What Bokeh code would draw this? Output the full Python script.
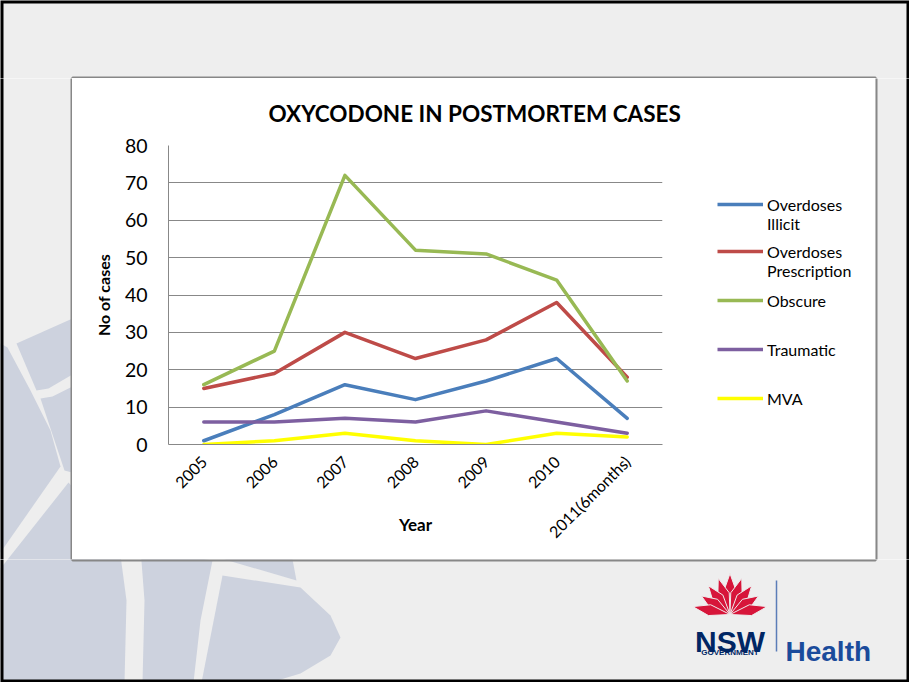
import math
from bokeh.plotting import figure
from bokeh.layouts import column, row
from bokeh.models import Range1d, Legend, LegendItem, FixedTicker
from bokeh.core.properties import value
from bokeh.embed import file_html
from bokeh.resources import INLINE

# ---------------- data ----------------
years = ["2005", "2006", "2007", "2008", "2009", "2010", "2011(6months)"]
overdoses_illicit = [1, 8, 16, 12, 17, 23, 7]
overdoses_prescription = [15, 19, 30, 23, 28, 38, 18]
obscure = [16, 25, 72, 52, 51, 44, 17]
traumatic = [6, 6, 7, 6, 9, 6, 3]
mva = [0, 1, 3, 1, 0, 3, 2]
series_labels = ["\nOverdoses\nIllicit", "\nOverdoses\nPrescription", "Obscure", "Traumatic", "MVA"]
series_colors = ["#4a7ebb", "#be4b48", "#98b954", "#7d5fa0", "#ffff00"]
y_ticks = [0, 10, 20, 30, 40, 50, 60, 70, 80]
title_text = "OXYCODONE IN POSTMORTEM CASES"
x_title = "Year"
y_title = "No of cases"

x_pos = list(range(len(years)))  # category index positions

# ---------------- slide geometry (page pixels) ----------------
PW, PH = 909, 682
BOX_L, BOX_R, BOX_T, BOX_B = 72, 875, 78, 559
LEG_L = 700                                # legend column starts here
SLIDE_BG = "#eeeeee"
PETAL = "#cdd2de"
FONT = "Lato"

petals = [
    [(0, 343), (7, 347), (30, 390), (50, 430), (60, 466), (0, 552)],
    [(16, 343), (72, 318), (72, 374), (48, 388), (36, 390)],
    [(40, 398), (52, 396), (72, 386), (72, 472), (64, 470)],
    [(0, 568), (68, 482), (118, 540), (126, 600), (124, 682), (0, 682)],
    [(140, 548), (212, 560), (200, 620), (193, 682), (142, 682), (144, 600)],
    [(222, 575), (300, 587), (330, 615), (340, 637), (330, 655), (300, 673), (270, 682), (201, 682)],
    [(224, 559), (292, 559), (296, 580)],
]


def strip(x0, x1, y0, y1):
    f = figure(width=x1 - x0, height=y1 - y0, x_range=Range1d(x0, x1), y_range=Range1d(y1, y0),
               output_backend="svg", toolbar_location=None,
               x_axis_location=None, y_axis_location=None, min_border=0)
    f.frame_align = False
    f.outline_line_color = None
    f.background_fill_color = SLIDE_BG
    f.border_fill_color = SLIDE_BG
    f.grid.visible = False
    f.patches([[q[0] for q in pl] for pl in petals], [[q[1] for q in pl] for pl in petals],
              fill_color=PETAL, line_color=None)
    f.quad(left=[BOX_L], right=[BOX_R], top=[BOX_T], bottom=[BOX_B], fill_color=None,
           line_color="#878787", line_width=4)
    f.quad(left=[0], right=[PW], top=[0], bottom=[PH], fill_color=None,
           line_color="#000000", line_width=6)
    return f


top = strip(0, PW, 0, BOX_T)
left = strip(0, BOX_L, BOX_T, BOX_B)
right = strip(BOX_R, PW, BOX_T, BOX_B)
bottom = strip(0, PW, BOX_B, PH)

# NSW Health logo in the bottom strip
red = "#d7153a"
bx, by = 729.5, 614
pxs, pys = [], []
for ang, ln, wd in [(0, 41, 13), (-18, 38, 12), (18, 38, 12), (-37, 36, 12), (37, 36, 12),
                    (-57, 34, 12), (57, 34, 12), (-78, 38, 11), (78, 38, 11)]:
    a = math.radians(ang)
    dx, dy = math.sin(a), -math.cos(a)
    nx, ny = -dy, dx
    tip = (bx + dx * ln, by + dy * ln)
    mid = (bx + dx * ln * 0.55, by + dy * ln * 0.55)
    pts = [(bx, by), (mid[0] + nx * wd / 2, mid[1] + ny * wd / 2), tip,
           (mid[0] - nx * wd / 2, mid[1] - ny * wd / 2)]
    pxs.append([q[0] for q in pts])
    pys.append([q[1] for q in pts])
bottom.patches(pxs, pys, fill_color=red, line_color=SLIDE_BG, line_width=1)
bottom.text(x=[729.5], y=[641], text=["NSW"], text_font=value("Liberation Sans"),
            text_font_style="bold", text_font_size="30px", text_align="center",
            text_baseline="alphabetic", text_color="#002664")
bottom.text(x=[729.5], y=[652], text=["GOVERNMENT"], text_font=value("Liberation Sans"),
            text_font_style="bold", text_font_size="8px", text_align="center",
            text_baseline="alphabetic", text_color="#002664")
bottom.segment(x0=[776], y0=[580], x1=[776], y1=[651], line_color="#5b7db8", line_width=1.5)
bottom.text(x=[785], y=[651], text=["Health"], text_font=value("Liberation Sans"),
            text_font_style="bold", text_font_size="28px", text_align="left",
            text_baseline="alphabetic", text_color="#1a4b9b")

# ---------------- chart ----------------
CW, CH = LEG_L - BOX_L, BOX_B - BOX_T
FL, FR, FT, FB = 168, 662, 145, 444      # plot area in page pixels

p = figure(width=CW, height=CH, x_range=Range1d(-0.5, len(years) - 0.5), y_range=Range1d(0, 80),
           output_backend="svg", toolbar_location=None,
           min_border_left=FL - BOX_L, min_border_right=LEG_L - FR,
           min_border_top=FT - BOX_T, min_border_bottom=BOX_B - FB)
p.frame_align = False
p.border_fill_color = "white"
p.background_fill_color = "white"
p.outline_line_color = None

p.title.text = title_text
p.title.align = "left"
p.title.offset = 100
p.title.text_font = FONT
p.title.text_font_style = "bold"
p.title.text_font_size = "22.5px"
p.title.text_color = "#000000"
p.title.standoff = 37

series = [overdoses_illicit, overdoses_prescription, obscure, traumatic, mva]
for vals, col in zip(series, series_colors):
    p.line(x_pos, vals, line_color=col, line_width=3.5, line_join="round", line_cap="round")

p.xgrid.grid_line_color = None
p.ygrid.grid_line_color = "#888888"
p.ygrid.grid_line_width = 1
p.yaxis.ticker = FixedTicker(ticks=y_ticks)
p.xaxis.ticker = FixedTicker(ticks=x_pos)
p.xaxis.major_label_overrides = {i: y for i, y in zip(x_pos, years)}

for ax in (p.xaxis[0], p.yaxis[0]):
    ax.axis_line_color = "#888888"
    ax.axis_line_width = 1
    ax.major_tick_line_color = None
    ax.minor_tick_line_color = None
    ax.major_label_text_font = FONT
    ax.major_label_text_color = "#000000"
    ax.axis_label_text_font = FONT
    ax.axis_label_text_font_style = "bold"
    ax.axis_label_text_color = "#000000"

p.yaxis.major_label_text_font_size = "19.5px"
p.yaxis.major_label_standoff = 15
p.yaxis.axis_label = y_title
p.yaxis.axis_label_text_font_size = "16px"
p.yaxis.axis_label_standoff = 9

p.xaxis.major_label_orientation = math.pi / 4
p.xaxis.major_label_text_font_size = "16px"
p.xaxis.major_label_standoff = 8
p.xaxis.axis_label = x_title
p.xaxis.axis_label_text_font_size = "17px"
p.xaxis.axis_label_standoff = -37

# ---------------- legend column ----------------
LW = BOX_R - LEG_L
lg = figure(width=LW, height=CH, x_range=Range1d(-3, -2), y_range=Range1d(-3, -2),
            output_backend="svg", toolbar_location=None,
            x_axis_location=None, y_axis_location=None, min_border=0)
lg.frame_align = False
lg.outline_line_color = None
lg.background_fill_color = "white"
lg.border_fill_color = "white"
lg.grid.visible = False
# legend keys: the same series, kept out of this column's visible range
key_renderers = [lg.line(x_pos, vals, line_color=col, line_width=3.5)
                 for vals, col in zip(series, series_colors)]
items = [LegendItem(label=lab, renderers=[r]) for lab, r in zip(series_labels, key_renderers)]

legend_style = dict(orientation="vertical", glyph_width=46, glyph_height=20, label_standoff=4,
                    padding=0, margin=0, border_line_color=None, background_fill_alpha=0,
                    label_text_font=FONT, label_text_font_size="16px",
                    label_text_line_height=1.25, label_text_color="#000000")
KEY_X = 717 - LEG_L
# two-line entries (key aligned with first text line), then the single-line entries
lg.add_layout(Legend(items=[items[0]], location=(KEY_X, BOX_B - 234), label_height=60,
                     spacing=0, **legend_style), "center")
lg.add_layout(Legend(items=[items[1]], location=(KEY_X, BOX_B - 281), label_height=60,
                     spacing=0, **legend_style), "center")
lg.add_layout(Legend(items=items[2:], location=(KEY_X, BOX_B - 408), label_height=20,
                     spacing=29, **legend_style), "center")

page = column(top, row(left, p, lg, right), bottom)
open("out.html", "w").write(file_html(page, INLINE))
